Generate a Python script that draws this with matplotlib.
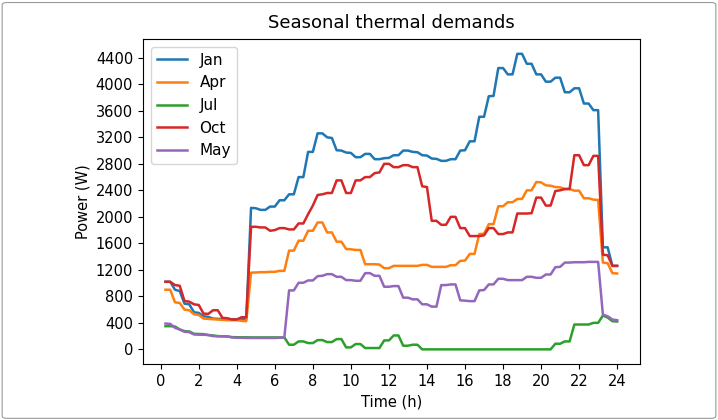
import numpy as np
import matplotlib
matplotlib.use("Agg")
import matplotlib.pyplot as plt
from matplotlib.patches import FancyBboxPatch

# time in hours, 15-minute resolution
time_h = np.arange(1, 97) * 0.25

jan = [1020, 1020, 900, 880, 690, 680, 560, 550, 500, 490, 465, 460,
       460, 455, 455, 455, 460, 460, 2135, 2130, 2105, 2105, 2155, 2155,
       2250, 2250, 2340, 2340, 2600, 2600, 2980, 2980, 3260, 3260, 3200, 3190,
       3005, 3000, 2970, 2965, 2900, 2900, 2950, 2950, 2870, 2870, 2885, 2890,
       2930, 2930, 3000, 3000, 2980, 2975, 2930, 2925, 2880, 2875, 2845, 2845,
       2870, 2870, 3000, 3005, 3140, 3140, 3510, 3510, 3820, 3825, 4245, 4245,
       4150, 4150, 4460, 4460, 4310, 4310, 4150, 4150, 4040, 4040, 4100, 4100,
       3880, 3880, 3940, 3940, 3710, 3710, 3610, 3610, 1540, 1540, 1260, 1260]

apr = [900, 900, 710, 700, 600, 590, 530, 520, 465, 460, 455, 450,
       445, 440, 440, 440, 430, 425, 1158, 1160, 1165, 1165, 1170, 1170,
       1185, 1185, 1490, 1490, 1640, 1640, 1790, 1790, 1915, 1915, 1765, 1765,
       1625, 1625, 1515, 1510, 1500, 1500, 1285, 1285, 1285, 1280, 1225, 1225,
       1260, 1260, 1260, 1260, 1260, 1260, 1275, 1275, 1245, 1245, 1245, 1245,
       1270, 1270, 1335, 1340, 1440, 1440, 1740, 1745, 1890, 1890, 2160, 2160,
       2220, 2220, 2270, 2270, 2400, 2400, 2525, 2520, 2475, 2470, 2450, 2445,
       2420, 2420, 2395, 2395, 2280, 2280, 2260, 2255, 1310, 1300, 1150, 1145]

jul = [350, 350, 345, 300, 275, 270, 235, 232, 230, 215, 210, 200,
       197, 195, 185, 183, 182, 182, 180, 180, 180, 180, 180, 180,
       180, 180, 70, 70, 120, 120, 95, 95, 140, 140, 110, 110,
       155, 155, 30, 30, 80, 80, 20, 20, 20, 20, 135, 135,
       210, 210, 55, 55, 70, 70, 0, 0, 0, 0, 0, 0,
       0, 0, 0, 0, 0, 0, 0, 0, 0, 0, 0, 0,
       0, 0, 0, 0, 0, 0, 0, 0, 0, 0, 85, 85,
       120, 120, 375, 375, 375, 375, 400, 400, 510, 480, 425, 420]

octo = [1020, 1020, 970, 960, 730, 720, 680, 670, 540, 535, 590, 590,
        475, 470, 450, 450, 485, 485, 1850, 1850, 1840, 1840, 1790, 1800,
        1830, 1830, 1810, 1810, 1900, 1900, 2040, 2170, 2330, 2340, 2360, 2360,
        2550, 2550, 2360, 2360, 2550, 2550, 2600, 2600, 2660, 2670, 2800, 2800,
        2750, 2750, 2780, 2780, 2750, 2750, 2460, 2450, 1940, 1940, 1880, 1880,
        2000, 2000, 1830, 1830, 1710, 1710, 1710, 1720, 1830, 1830, 1740, 1740,
        1765, 1765, 2050, 2050, 2050, 2055, 2290, 2290, 2170, 2170, 2390, 2400,
        2420, 2420, 2930, 2930, 2780, 2780, 2920, 2920, 1430, 1420, 1260, 1260]

may = [390, 385, 325, 300, 265, 260, 225, 222, 220, 218, 200, 198,
       197, 195, 180, 175, 175, 172, 172, 172, 172, 172, 172, 172,
       175, 180, 890, 890, 1005, 1005, 1040, 1040, 1105, 1110, 1135, 1135,
       1095, 1095, 1045, 1045, 1035, 1035, 1150, 1150, 1110, 1110, 945, 945,
       955, 955, 780, 780, 755, 755, 680, 680, 645, 645, 970, 970,
       980, 980, 740, 735, 728, 728, 890, 895, 980, 980, 1065, 1065,
       1045, 1045, 1045, 1045, 1095, 1095, 1080, 1080, 1130, 1130, 1240, 1245,
       1310, 1310, 1315, 1315, 1315, 1320, 1320, 1320, 525, 500, 450, 440]

series = [("Jan", jan), ("Apr", apr), ("Jul", jul), ("Oct", octo), ("May", may)]
colors = ["#1f77b4", "#ff7f0e", "#2ca02c", "#d62728", "#9467bd"]

xticks = list(range(0, 25, 2))
yticks = list(range(0, 4401, 400))

fig = plt.figure(figsize=(7.18, 4.2), dpi=100)
ax = fig.add_axes([0.199, 0.133, 0.692, 0.774])
for (name, vals), c in zip(series, colors):
    ax.plot(time_h, vals, color=c, label=name, linewidth=1.8)

ax.set_xticks(xticks)
ax.set_yticks(yticks)
ax.tick_params(labelsize=10.5)
ax.set_xlabel("Time (h)", fontsize=10.5)
ax.set_ylabel("Power (W)", fontsize=10.5)
ax.set_title("Seasonal thermal demands", fontsize=13, pad=8)
ax.legend(loc="upper left", fontsize=11)

border = FancyBboxPatch((0.003, 0.004), 0.994, 0.99, boxstyle="round,pad=0,rounding_size=0.006",
                        transform=fig.transFigure, fill=False, edgecolor="#999999", linewidth=0.8)
fig.patches.append(border)

fig.savefig("out.png", dpi=100)
